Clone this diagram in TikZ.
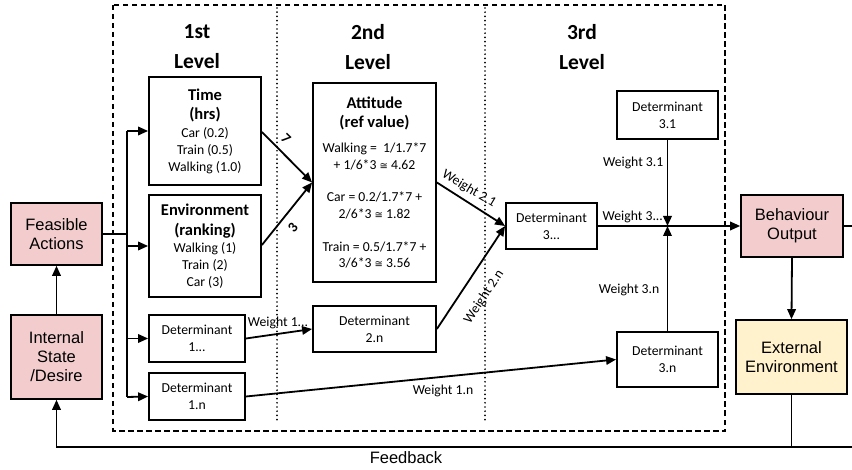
\documentclass[tikz,border=0pt]{standalone}
\usepackage{fontspec}
\setmainfont{Carlito}
\newfontfamily\arialf{Liberation Sans}
\newfontfamily\dejavuf{DejaVu Sans}
\usetikzlibrary{arrows.meta}
\definecolor{pinkbox}{RGB}{243,205,205}
\definecolor{yelbox}{RGB}{255,242,204}
\newcommand{\approxsym}{{\dejavuf\fontsize{10}{10}\selectfont ≅}}
\newcommand{\hdr}[1]{\textbf{\fontsize{16.5}{20}\selectfont #1}}
\begin{document}
\begin{tikzpicture}[x=1pt,y=-1pt,
  box/.style={draw,line width=1.8pt,inner sep=0pt,align=center,font=\fontsize{13.7}{16.7}\selectfont},
  colbox/.style={draw,line width=1.6pt,inner sep=0pt,align=center,font=\arialf\fontsize{16.5}{19}\selectfont},
  conn/.style={line width=1.8pt},
  arr/.style={conn,-{Triangle[length=10pt,width=8.5pt]}},
  lbl/.style={font=\fontsize{13.7}{16}\selectfont,inner sep=1.5pt},
  num/.style={font=\bfseries\fontsize{14.5}{14}\selectfont,inner sep=0pt},
  lvl/.style={font=\bfseries\fontsize{21.5}{30}\selectfont,align=center,inner sep=0pt},
  frame/.style={line width=1.4pt,dash pattern=on 5.5pt off 3.5pt},
  sep/.style={line width=1.9pt,line cap=round,dash pattern=on 0pt off 4.2pt}]
\useasboundingbox (0,0) rectangle (852,470);

% frame and level separators
\draw[frame] (113,5) rectangle (725,431);
\coordinate (s1t) at (277,8); \coordinate (s1b) at (277,423);
\coordinate (s2t) at (485,8); \coordinate (s2b) at (485,423);
\draw[sep] (s1t) -- (s1b);
\draw[sep] (s2t) -- (s2b);

% level titles
\node[lvl] (l1) at (197,47) {1st\\Level};
\node[lvl] (l2) at (368,47) {2nd\\Level};
\node[lvl] (l3) at (582,47) {3rd\\Level};

% coloured boxes
\node[colbox,fill=pinkbox,minimum width=91pt,minimum height=62pt] (fa) at (56.5,234) {Feasible\\Actions};
\node[colbox,fill=pinkbox,minimum width=91pt,minimum height=84pt] (isd) at (56.5,357) {Internal\\State\\/Desire};
\node[colbox,fill=pinkbox,minimum width=102pt,minimum height=62pt] (beh) at (792,226) {Behaviour\\Output};
\node[colbox,fill=yelbox,minimum width=111pt,minimum height=74pt] (ext) at (791.5,357) {External\\Environment};

% level 1
\node[box,minimum width=112pt,minimum height=108pt] (time) at (205,131)
  {\hdr{Time}\\[3pt]\hdr{(hrs)}\\[1pt]Car (0.2)\\Train (0.5)\\Walking (1.0)};
\node[box,minimum width=112pt,minimum height=102pt] (env) at (205,246)
  {\hdr{Environment}\\[3pt]\hdr{(ranking)}\\[1pt]Walking (1)\\Train (2)\\Car (3)};
\node[box,minimum width=96pt,minimum height=47pt] (d1a) at (197,338.5) {Determinant\\1...};
\node[box,minimum width=96pt,minimum height=47pt] (d1n) at (197,396.5) {Determinant\\1.n};

% level 2
\node[box,minimum width=123pt,minimum height=199pt] (att) at (374.5,182.5)
  {\hdr{Attitude}\\[3pt]\hdr{(ref value)}\\[8pt]Walking =\ \ 1/1.7*7\\+ 1/6*3 \approxsym{} 4.62\\[16pt]Car = 0.2/1.7*7 +\\2/6*3 \approxsym{} 1.82\\[16pt]Train = 0.5/1.7*7 +\\3/6*3 \approxsym{} 3.56};
\node[box,minimum width=123pt,minimum height=46pt] (d2n) at (374.5,329) {Determinant\\2.n};

% level 3
\node[box,minimum width=91pt,minimum height=46pt] (d3a) at (551.5,226) {Determinant\\3...};
\node[box,minimum width=101pt,minimum height=48pt] (d31) at (667.5,115) {Determinant\\3.1};
\node[box,minimum width=101pt,minimum height=55pt] (d3n) at (667.5,359.5) {Determinant\\3.n};

% input bus
\draw[conn] (fa.east) -- (127,234);
\coordinate (bt) at (127,131);
\coordinate (bb) at (127,397);
\draw[conn] (bt) -- (bb);
\draw[arr] (bt) -- (time.west);
\draw[arr] (bt |- env.west) -- (env.west);
\draw[arr] (bt |- d1a.west) -- (d1a.west);
\draw[arr] (bb) -- (d1n.west);
\draw[arr] (isd.north) -- (fa.south);

% level 1 -> level 2
\draw[arr] (time.east |- 0,132) -- (att.west);
\node[num,rotate=-44] (n7) at (286,139) {7};
\draw[arr] (env.east |- 0,245) -- (att.west);
\node[num,rotate=50] (n3) at (293,228) {3};
\draw[arr] (d1a.east) -- (d2n.west);
\node[lbl] (w1a) at (278,323) {Weight 1...};
\draw[arr] (d1n.east) -- (d3n.west);
\node[lbl] (w1n) at (443,391) {Weight 1.n};

% level 2 -> level 3
\draw[arr] (att.east) -- (d3a.west);
\node[lbl,rotate=-31] (w21) at (469,189) {Weight 2.1};
\draw[arr] (d2n.east) -- (d3a.west);
\node[lbl,rotate=56] (w2n) at (484,297) {Weight 2.n};

% level 3 -> output
\coordinate (j) at (667.5,226);
\draw[arr] (d3a.east) -- (beh.west);
\node[lbl,anchor=south west] (w3a) at (601,225) {Weight 3...};
\draw[arr] (d31.south) -- (j);
\node[lbl,anchor=east] (w31) at (665,163) {Weight 3.1};
\draw[arr] (d3n.north) -- (j);
\node[lbl,anchor=east] (w3n) at (661,290) {Weight 3.n};

% output and feedback
\draw[arr] (beh.south) -- (ext.north);
\coordinate (fr) at (860,447);
\coordinate (fl) at (56.5,447);
\draw[arr] (beh.east) -| (fr) -- (fl) -- (isd.south);
\draw[conn] (ext.south) -- (ext.south |- fr);
\node[font=\arialf\fontsize{16.5}{19}\selectfont,inner sep=0pt] (fb) at (406,458) {Feedback};
\end{tikzpicture}
\end{document}
